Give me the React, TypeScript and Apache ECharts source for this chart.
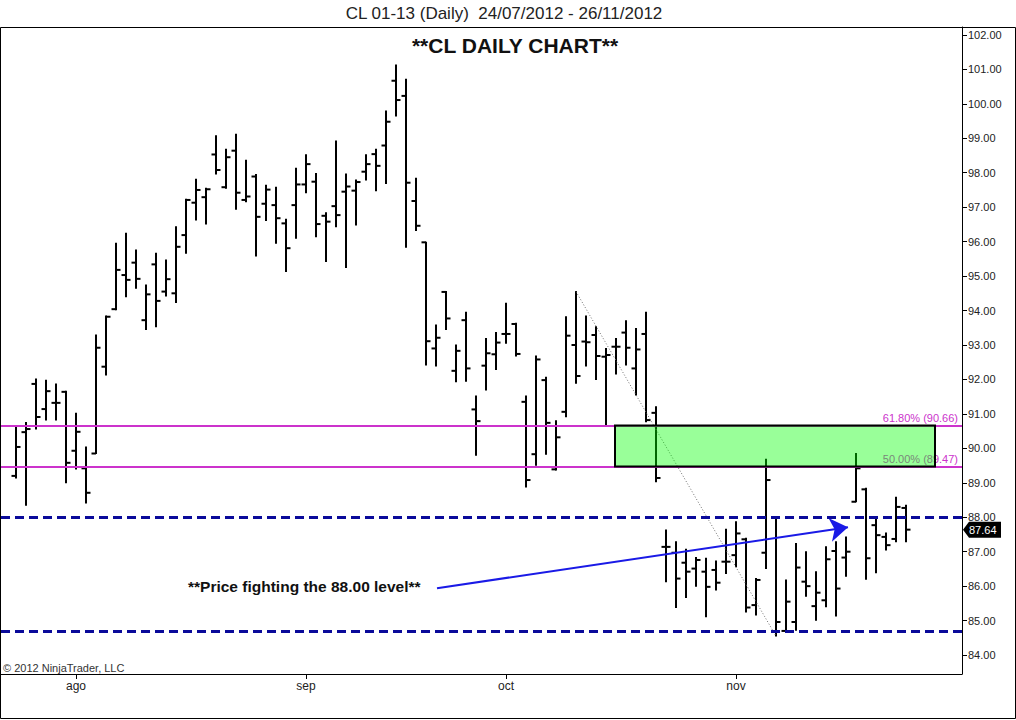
import React, { useEffect, useRef } from "react";
import * as echarts from "echarts";

const dates = [
  "24/07","25/07","26/07","27/07","30/07","31/07",
  "01/08","02/08","03/08","06/08","07/08","08/08","09/08","10/08","13/08","14/08","15/08","16/08","17/08","20/08","21/08","22/08","23/08","24/08","27/08","28/08","29/08","30/08","31/08",
  "03/09","04/09","05/09","06/09","07/09","10/09","11/09","12/09","13/09","14/09","17/09","18/09","19/09","20/09","21/09","24/09","25/09","26/09","27/09","28/09",
  "01/10","02/10","03/10","04/10","05/10","08/10","09/10","10/10","11/10","12/10","15/10","16/10","17/10","18/10","19/10","22/10","23/10","24/10","25/10","26/10","29/10","30/10","31/10",
  "01/11","02/11","05/11","06/11","07/11","08/11","09/11","12/11","13/11","14/11","15/11","16/11","19/11","20/11","21/11","22/11","23/11","26/11"
];

const opens = [
  89.20, 90.47, 91.87, 91.14, 91.32, 91.64, 89.93, 89.42, 89.85, 92.37,
  94.04, 95.03, 95.39, 93.72, 95.34, 94.55, 94.50, 96.19, 97.13, 97.29,
  98.53, 97.58, 98.64, 97.21, 97.89, 97.10, 97.06, 96.53, 97.06, 97.66,
  97.74, 96.75, 97.03, 97.45, 97.48, 98.03, 98.54, 98.79, 100.67, 100.23,
  97.18, 95.98, 92.90, 94.54, 92.25, 93.72, 91.13, 92.40, 92.73, 93.32,
  93.61, 91.35, 89.83, 91.98, 89.39, 91.06, 93.00, 93.10, 93.29, 92.66,
  92.95, 93.36, 92.32, 93.32, 91.03, 87.14, 86.97, 86.68, 86.51, 86.42,
  86.47, 86.71, 86.90, 87.36, 85.45, 86.97, 87.99, 84.70, 84.96, 86.13,
  85.42, 85.59, 87.02, 86.83, 88.45, 88.81, 87.77, 87.43, 87.37, 88.27
];
const highs = [
  90.62, 90.75, 92.01, 91.98, 91.87, 91.66, 91.02, 90.04, 93.29, 93.84,
  95.95, 96.24, 95.76, 94.74, 95.66, 95.47, 96.43, 97.23, 97.81, 97.55,
  99.07, 98.68, 99.12, 98.36, 97.95, 97.64, 97.58, 96.65, 98.13, 98.52,
  97.98, 96.84, 98.92, 97.96, 97.79, 98.52, 98.68, 99.79, 101.13, 100.71,
  97.84, 95.98, 93.58, 94.55, 93.00, 93.95, 91.52, 93.19, 93.36, 94.21,
  93.63, 91.52, 92.68, 92.06, 90.80, 93.82, 94.55, 93.84, 93.53, 92.90,
  93.19, 93.70, 93.48, 93.95, 91.21, 87.63, 87.29, 87.07, 86.83, 86.81,
  86.73, 87.65, 87.87, 87.39, 86.22, 89.68, 88.01, 86.18, 87.24, 87.00,
  86.42, 87.14, 87.29, 87.43, 89.85, 88.84, 87.94, 87.54, 88.58, 88.35
];
const lows = [
  89.14, 88.35, 90.56, 90.82, 90.82, 89.00, 89.40, 88.41, 89.85, 92.13,
  94.02, 94.40, 94.65, 93.45, 93.53, 94.42, 94.23, 95.66, 96.63, 96.51,
  97.96, 97.55, 96.94, 97.16, 95.58, 96.61, 95.95, 95.13, 96.10, 97.42,
  96.14, 95.42, 96.43, 95.25, 96.48, 97.79, 97.48, 97.69, 99.65, 95.84,
  96.32, 92.42, 92.39, 93.45, 91.93, 91.95, 89.80, 91.69, 92.29, 93.05,
  92.68, 88.88, 89.51, 89.83, 89.37, 90.92, 91.89, 92.39, 92.00, 90.65,
  92.16, 92.42, 91.55, 90.77, 89.03, 86.13, 85.38, 85.67, 86.00, 85.11,
  85.89, 86.37, 86.56, 85.25, 85.16, 86.51, 84.55, 84.67, 84.72, 85.71,
  85.01, 85.40, 85.13, 86.29, 88.45, 86.20, 86.39, 87.05, 87.29, 87.29
];
const closes = [
  90.04, 90.56, 90.91, 91.66, 91.32, 89.58, 90.48, 88.71, 92.92, 93.82,
  95.18, 94.89, 94.92, 94.47, 94.28, 94.91, 95.85, 97.21, 97.50, 97.52,
  98.08, 98.45, 97.42, 97.31, 96.72, 97.51, 96.68, 95.81, 97.66, 98.25,
  96.51, 96.58, 96.77, 97.60, 97.73, 98.25, 98.20, 99.48, 100.11, 97.71,
  96.46, 93.11, 93.21, 93.77, 92.83, 92.32, 90.79, 92.76, 93.07, 93.32,
  92.74, 89.08, 92.58, 90.74, 90.32, 93.27, 92.10, 93.08, 92.68, 92.71,
  92.95, 92.92, 92.87, 90.82, 89.14, 87.14, 86.22, 86.42, 86.76, 85.98,
  86.10, 86.71, 87.53, 85.38, 86.18, 89.08, 84.96, 85.55, 86.54, 86.00,
  85.81, 86.78, 85.93, 87.00, 89.42, 86.81, 87.48, 87.19, 88.30, 87.64
];

const yTicks = [84, 85, 86, 87, 88, 89, 90, 91, 92, 93, 94, 95, 96, 97, 98, 99, 100, 101, 102];
const monthLabels = ["ago", "sep", "oct", "nov"];
const monthStarts = ["01/08", "03/09", "01/10", "01/11"];

const fibLabels = ["61.80% (90.66)", "50.00% (89.47)"];
const fibValues = [90.66, 89.47];
const supportValues = [88.0, 84.7];

// annotation anchors (bar index, price)
const zoneBox = [59.9, 90.66, 91.9, 89.47];
const trendLine = [[56, 94.55], [76, 84.55]];
const arrowLine = [[42.1, 85.94], [83.2, 87.71]];

const FONT = "'Liberation Sans', Arial, sans-serif";

export default function App() {
  const ref = useRef<HTMLDivElement>(null);

  useEffect(() => {
    document.body.style.margin = "0";
    if (!ref.current) return;
    const chart = echarts.init(ref.current, null, { renderer: "svg" });

    const monthIdx = monthStarts.map((d) => dates.indexOf(d));
    const ohlc = dates.map((_, i) => [i, opens[i], highs[i], lows[i], closes[i]]);
    const last = closes.length - 1;

    const option: any = {
      animation: false,
      backgroundColor: "#fff",
      textStyle: { fontFamily: FONT },
      grid: { left: 1, top: 27, right: 54, bottom: 46 },
      xAxis: {
        type: "value",
        min: -1.5,
        max: 94.6,
        axisLine: { show: true, onZero: false, lineStyle: { color: "#000", width: 1 } },
        axisTick: {
          show: true,
          customValues: monthIdx,
          length: 5,
          lineStyle: { color: "#000" },
        },
        axisLabel: {
          customValues: monthIdx,
          formatter: (v: number) => {
            const k = monthIdx.indexOf(Math.round(v));
            return k >= 0 ? monthLabels[k] : "";
          },
          color: "#222",
          fontSize: 12,
          fontFamily: FONT,
          margin: 6,
        },
        splitLine: { show: false },
      },
      yAxis: {
        type: "value",
        position: "right",
        min: 83.45,
        max: 102.23,
        axisLine: { show: true, onZero: false, lineStyle: { color: "#000", width: 1 } },
        axisTick: {
          show: true,
          customValues: yTicks,
          length: 5,
          lineStyle: { color: "#000" },
        },
        axisLabel: {
          customValues: yTicks,
          formatter: (v: number) => v.toFixed(2),
          color: "#222",
          fontSize: 11,
          fontFamily: FONT,
          margin: 6,
        },
        splitLine: { show: false },
      },
      series: [
        {
          type: "custom",
          name: "CL",
          z: 2,
          clip: true,
          encode: { x: 0, y: [1, 2, 3, 4] },
          data: ohlc,
          renderItem: (_p: any, api: any) => {
            const x = api.value(0);
            const o = api.coord([x, api.value(1)]);
            const h = api.coord([x, api.value(2)]);
            const l = api.coord([x, api.value(3)]);
            const c = api.coord([x, api.value(4)]);
            const st = { stroke: "#000", lineWidth: 2 };
            return {
              type: "group",
              children: [
                { type: "line", shape: { x1: h[0], y1: h[1] - 0.5, x2: l[0], y2: l[1] + 0.5 }, style: st },
                { type: "line", shape: { x1: o[0] - 4.5, y1: o[1], x2: o[0], y2: o[1] }, style: st },
                { type: "line", shape: { x1: c[0], y1: c[1], x2: c[0] + 4.5, y2: c[1] }, style: st },
              ],
            };
          },
          markLine: {
            silent: true,
            symbol: "none",
            animation: false,
            data: [
              {
                yAxis: fibValues[0],
                lineStyle: { color: "#cc33cc", width: 2, type: "solid" },
                label: {
                  show: true,
                  position: "insideEndTop",
                  formatter: fibLabels[0],
                  color: "#cc33cc",
                  fontSize: 11,
                  fontFamily: FONT,
                  distance: [4, 2],
                },
              },
              {
                yAxis: fibValues[1],
                lineStyle: { color: "#cc33cc", width: 2, type: "solid" },
                label: {
                  show: true,
                  position: "insideEndTop",
                  formatter: fibLabels[1],
                  color: "#cc33cc",
                  fontSize: 11,
                  fontFamily: FONT,
                  distance: [4, 2],
                },
              },
              {
                yAxis: supportValues[0],
                lineStyle: { color: "#0a0a9a", width: 3, type: [9, 5] },
                label: { show: false },
              },
              {
                yAxis: supportValues[1],
                lineStyle: { color: "#0a0a9a", width: 3, type: [9, 5] },
                label: { show: false },
              },
            ],
          },
        },
        {
          type: "line",
          z: 3,
          data: trendLine,
          symbol: "none",
          silent: true,
          lineStyle: { color: "#707070", width: 1, type: [1, 2] },
        },
        {
          type: "lines",
          coordinateSystem: "cartesian2d",
          z: 4,
          silent: true,
          symbol: ["none", "arrow"],
          symbolSize: [0, 18],
          lineStyle: { color: "#1a1ae6", width: 2, opacity: 1 },
          data: [{ coords: arrowLine }],
        },
        {
          type: "custom",
          z: 6,
          silent: true,
          clip: true,
          data: [zoneBox],
          encode: { x: [0, 2], y: [1, 3] },
          renderItem: (_p: any, api: any) => {
            const p1 = api.coord([api.value(0), api.value(1)]);
            const p2 = api.coord([api.value(2), api.value(3)]);
            return {
              type: "rect",
              shape: { x: p1[0], y: p1[1], width: p2[0] - p1[0], height: p2[1] - p1[1] },
              style: { fill: "rgba(0,255,0,0.4)", stroke: "#000", lineWidth: 2 },
            };
          },
        },
        {
          type: "custom",
          z: 7,
          silent: true,
          clip: false,
          data: [[94.6, closes[last]]],
          encode: { x: 0, y: 1 },
          renderItem: (_p: any, api: any) => {
            const p = api.coord([api.value(0), api.value(1)]);
            const x0 = p[0] + 1;
            const y0 = p[1];
            return {
              type: "group",
              children: [
                {
                  type: "polygon",
                  shape: {
                    points: [
                      [x0, y0],
                      [x0 + 6, y0 - 8],
                      [x0 + 38, y0 - 8],
                      [x0 + 38, y0 + 8],
                      [x0 + 6, y0 + 8],
                    ],
                  },
                  style: { fill: "#000" },
                },
                {
                  type: "text",
                  style: {
                    text: api.value(1).toFixed(2),
                    x: x0 + 6,
                    y: y0 + 0.5,
                    verticalAlign: "middle",
                    fill: "#fff",
                    font: `11px ${FONT}`,
                  },
                },
              ],
            };
          },
        },
      ],
      graphic: [
        {
          type: "rect",
          silent: true,
          z: 0,
          shape: { x: 0.5, y: 27.5, width: 1015, height: 691 },
          style: { fill: "none", stroke: "#000", lineWidth: 1 },
        },
        {
          type: "text",
          x: 504,
          y: 13,
          silent: true,
          style: {
            text: "CL 01-13 (Daily)  24/07/2012 - 26/11/2012",
            font: `17px ${FONT}`,
            fill: "#222",
            align: "center",
            verticalAlign: "middle",
          },
        },
        {
          type: "text",
          x: 515,
          y: 45,
          silent: true,
          style: {
            text: "**CL DAILY CHART**",
            font: `bold 21px ${FONT}`,
            fill: "#111",
            align: "center",
            verticalAlign: "middle",
          },
        },
        {
          type: "text",
          x: 188,
          y: 586,
          silent: true,
          style: {
            text: "**Price fighting the 88.00 level**",
            font: `bold 15.5px ${FONT}`,
            fill: "#111",
            verticalAlign: "middle",
          },
        },
        {
          type: "text",
          x: 3,
          y: 668,
          silent: true,
          style: {
            text: "© 2012 NinjaTrader, LLC",
            font: `11px ${FONT}`,
            fill: "#333",
            verticalAlign: "middle",
          },
        },
      ],
    };

    chart.setOption(option);
    return () => chart.dispose();
  }, []);

  return <div ref={ref} style={{ width: 1016, height: 720 }} />;
}
